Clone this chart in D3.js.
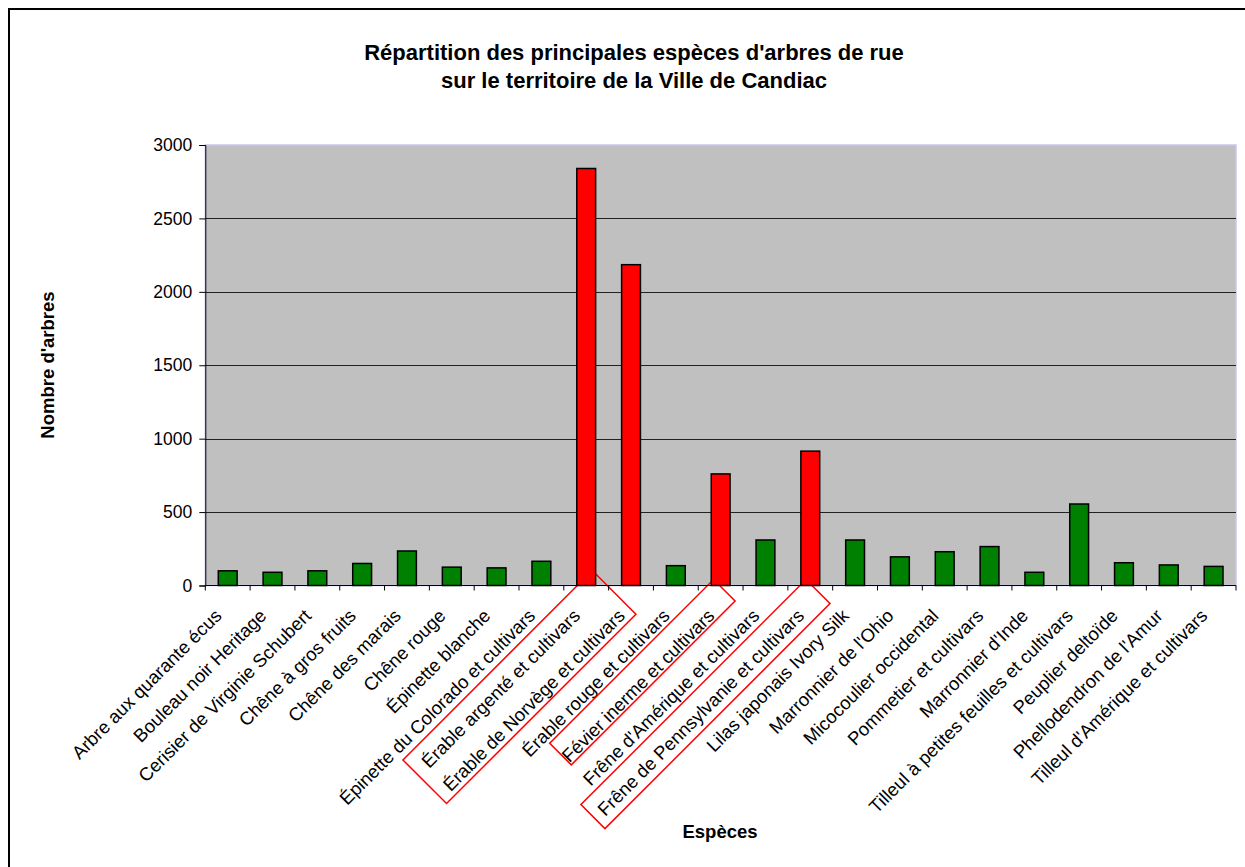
<!DOCTYPE html>
<html><head><meta charset="utf-8">
<script src="https://cdn.jsdelivr.net/npm/d3@7"></script>
<style>
html,body{margin:0;padding:0;background:#fff;}
text{font-family:"Liberation Sans",Arial,sans-serif;fill:#000;}
</style></head>
<body><svg id="chart" width="1245" height="867"></svg>
<script>
const categories = [
  "Arbre aux quarante écus","Bouleau noir Heritage","Cerisier de Virginie Schubert",
  "Chêne à gros fruits","Chêne des marais","Chêne rouge","Épinette blanche",
  "Épinette du Colorado et cultivars","Érable argenté et cultivars","Érable de Norvège et cultivars",
  "Érable rouge et cultivars","Févier inerme et cultivars","Frêne d'Amérique et cultivars",
  "Frêne de Pennsylvanie et cultivars","Lilas japonais Ivory Silk","Marronnier de l'Ohio",
  "Micocoulier occidental","Pommetier et cultivars","Marronnier d'Inde",
  "Tilleul à petites feuilles et cultivars","Peuplier deltoïde","Phellodendron de l'Amur",
  "Tilleul d'Amérique et cultivars"
];
const values = [100,90,100,150,235,125,120,165,2840,2185,135,760,310,915,310,195,230,265,90,555,155,140,130];
const highlighted = ["Érable argenté et cultivars","Érable de Norvège et cultivars","Févier inerme et cultivars","Frêne de Pennsylvanie et cultivars"];
const yTicks = [0,500,1000,1500,2000,2500,3000];
const boxedGroups = [
  ["Érable argenté et cultivars","Érable de Norvège et cultivars"],
  ["Févier inerme et cultivars"],
  ["Frêne de Pennsylvanie et cultivars"]
];
const titleLines = ["Répartition des principales espèces d'arbres de rue","sur le territoire de la Ville de Candiac"];
const yTitle = "Nombre d'arbres";
const xTitle = "Espèces";

const svg = d3.select("#chart");
const plot = {left:205.3, right:1236, top:145, bottom:585.5};
const FS = 18.5;

// outer border
svg.append("rect").attr("x",9).attr("y",9).attr("width",1260).attr("height",880)
  .attr("fill","#fff").attr("stroke","#000").attr("stroke-width",2);

const x = d3.scaleBand().domain(categories).range([plot.left, plot.right]).paddingInner(0.58).paddingOuter(0.29);
const xb = d3.scaleBand().domain(categories).range([plot.left, plot.right]);
const y = d3.scaleLinear().domain([0,3000]).range([plot.bottom, plot.top]);

// plot background
svg.append("rect").attr("x",plot.left).attr("y",plot.top)
  .attr("width",plot.right-plot.left).attr("height",plot.bottom-plot.top)
  .attr("fill","#c0c0c0").attr("stroke","#c8c8f0").attr("stroke-width",1.5);

// gridlines
svg.append("g").selectAll("line").data(yTicks.filter(d=>d>0 && d<3000)).join("line")
  .attr("x1",plot.left).attr("x2",plot.right)
  .attr("y1",d=>Math.round(y(d))+0.5).attr("y2",d=>Math.round(y(d))+0.5)
  .attr("stroke","#222").attr("stroke-width",1);

// title
svg.append("g").selectAll("text").data(titleLines).join("text")
  .attr("x",634).attr("y",(d,i)=>60+i*28).attr("text-anchor","middle")
  .attr("font-size",22).attr("font-weight","bold").text(d=>d);

// tick labels
const labelY = 617;
const labelDx = -5;
const labels = svg.append("g").selectAll("text").data(categories).join("text")
  .attr("text-anchor","end").attr("font-size",FS)
  .attr("transform",d=>`translate(${xb(d)+xb.bandwidth()/2+labelDx},${labelY}) rotate(-45)`)
  .text(d=>d);

// hand-drawn style boxes around highlighted labels (in rotated frame of first label)
const s2 = Math.SQRT2;
const lenOf = {};
labels.each(function(d){ lenOf[d] = this.getComputedTextLength(); });
const boxStyle = [
  {low:11, top:9, up:-25, down:5},
  {low:0,  top:25, up:-28, down:2.5},
  {low:8.5,top:27, up:-26, down:8}
];
boxedGroups.forEach((grp,gi)=>{
  const c0 = xb(grp[0])+xb.bandwidth()/2;
  let minX = Infinity, maxX = -Infinity, maxY = -Infinity;
  grp.forEach(c=>{
    const off = (xb(c)+xb.bandwidth()/2 - c0)/s2;
    minX = Math.min(minX, off - lenOf[c]);
    maxX = Math.max(maxX, off);
    maxY = Math.max(maxY, off);
  });
  const st = boxStyle[gi];
  svg.append("rect")
    .attr("transform",`translate(${c0+labelDx},${labelY}) rotate(-45)`)
    .attr("x",minX-st.low).attr("y",st.up)
    .attr("width",maxX-minX+st.low+st.top).attr("height",maxY+st.down-st.up)
    .attr("fill","none").attr("stroke","#ff0000").attr("stroke-width",1.5);
});

// bars
svg.append("g").selectAll("rect").data(categories).join("rect")
  .attr("x",d=>x(d)).attr("width",x.bandwidth())
  .attr("y",(d,i)=>y(values[i])).attr("height",(d,i)=>plot.bottom-y(values[i]))
  .attr("fill",d=>highlighted.includes(d)?"#ff0000":"#008000")
  .attr("stroke","#000").attr("stroke-width",1.5);

// y axis
const yAxis = svg.append("g").attr("transform",`translate(${plot.left},0)`)
  .call(d3.axisLeft(y).tickValues(yTicks).tickSize(6).tickPadding(7).tickFormat(d3.format("d")));
yAxis.select(".domain").attr("stroke","#000");
yAxis.selectAll(".tick line").attr("stroke","#000");
yAxis.selectAll("text").attr("font-size",17.5).attr("font-family","Liberation Sans, Arial, sans-serif");

// x axis line + ticks at band boundaries
const xAxis = svg.append("g").attr("transform",`translate(0,${plot.bottom})`);
xAxis.append("line").attr("x1",plot.left).attr("x2",plot.right).attr("stroke","#000").attr("stroke-width",1);
const bounds = categories.map(c=>xb(c)).concat([plot.right]);
xAxis.selectAll("line.t").data(bounds).join("line").attr("class","t")
  .attr("x1",d=>d).attr("x2",d=>d).attr("y1",0).attr("y2",5).attr("stroke","#000");

// axis titles
svg.append("text").attr("transform",`translate(54,365) rotate(-90)`).attr("text-anchor","middle")
  .attr("font-size",18.5).attr("font-weight","bold").text(yTitle);
svg.append("text").attr("x",720).attr("y",838).attr("text-anchor","middle")
  .attr("font-size",18.5).attr("font-weight","bold").text(xTitle);
</script></body></html>
